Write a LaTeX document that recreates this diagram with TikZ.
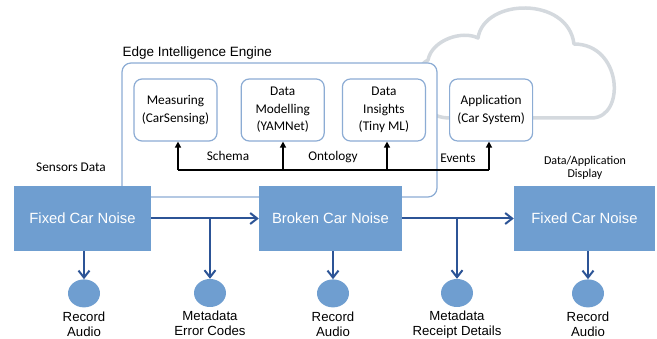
\documentclass[tikz,border=0pt]{standalone}
\usepackage{fontspec}
\setmainfont{Liberation Sans}
\newfontfamily\calfont{Carlito}
\usetikzlibrary{positioning, arrows.meta, shapes.geometric}

\definecolor{boxblue}{RGB}{111,158,208}
\definecolor{linkblue}{RGB}{44,84,150}
\definecolor{edgeblue}{RGB}{140,172,212}
\definecolor{cloudgray}{RGB}{212,217,222}

\tikzset{
  noise/.style={fill=boxblue, text=white, minimum height=65pt, inner sep=0pt,
    font=\fontsize{14.8}{17}\selectfont},
  engbox/.style={draw=edgeblue, line width=1.2pt, fill=white, rounded corners=8pt,
    minimum width=83pt, minimum height=62pt, align=center, inner sep=0pt,
    font=\calfont\fontsize{13.3}{17.5}\selectfont},
  store/.style={ellipse, fill=boxblue, minimum width=32pt, minimum height=28pt, inner sep=0pt},
  storetext/.style={align=center, inner sep=0pt, font=\fontsize{13.2}{15}\selectfont},
  tag/.style={inner sep=0pt, font=\calfont\fontsize{13.3}{15}\selectfont},
  flow/.style={draw=linkblue, line width=2pt, -{Straight Barb[length=7pt,width=11pt]}},
  bus/.style={line width=1.8pt, -{Triangle[length=6pt,width=6pt]}},
}

\begin{document}
\begin{tikzpicture}[x=1pt, y=-1pt]
  \useasboundingbox (0,0) rectangle (657,339);

  % cloud behind the engine
  \draw[cloudgray, line width=3.5pt, line join=round]
    (450,118) .. controls (412,118) and (408,70) .. (428,60)
    .. controls (432,40) and (462,30) .. (478,38)
    .. controls (484,-2) and (568,-4) .. (574,44)
    .. controls (622,44) and (626,117) .. (592,118) -- cycle;

  % engine frame
  \node[draw=edgeblue, line width=1.2pt, fill=white, rounded corners=9pt,
        minimum width=315pt, minimum height=134pt] (engine) at (279.5,130) {};
  \node[above right=3pt and 1pt of engine.north west, inner sep=0pt,
        font=\fontsize{13.5}{16}\selectfont] (title) {Edge Intelligence Engine};

  \node[engbox] (meas) at (175.5,110) {Measuring\\(CarSensing)};
  \node[engbox, right=23pt of meas] (model) {Data\\Modelling\\(YAMNet)};
  \node[engbox, right=17pt of model] (insight) {Data\\Insights\\(Tiny ML)};
  \node[engbox, right=23pt of insight] (app) {Application\\(Car System)};

  % bus
  \coordinate (b1) at (178,170);
  \coordinate (b2) at (283,170);
  \coordinate (b3) at (387,170);
  \coordinate (b4) at (489,170);
  \draw[line width=1.8pt] (b1) -- (b4);
  \draw[bus] (b1) -- (b1 |- meas.south);
  \draw[bus] (b2) -- (b2 |- model.south);
  \draw[bus] (b3) -- (b3 |- insight.south);
  \draw[bus] (b4) -- (b4 |- app.south);

  \node[tag] (schema) at (228,156) {Schema};
  \node[tag] (onto) at (333,157) {Ontology};
  \node[tag] (events) at (458,158) {Events};
  \node[tag] (sensors) at (71,167) {Sensors Data};
  \node[tag, align=center, font=\calfont\fontsize{12}{12.5}\selectfont] (display) at (585,168) {Data/Application\\Display};

  % main chain
  \node[noise, minimum width=137pt] (fix1) at (82.5,218.5) {Fixed Car Noise};
  \node[noise, minimum width=143pt] (brk) at (330.5,218.5) {Broken Car Noise};
  \node[noise, minimum width=141pt] (fix2) at (584.5,218.5) {Fixed Car Noise};

  \node[store, below=28pt of fix1, xshift=1.5pt] (rec1) {};
  \node[store, below=28pt of brk, xshift=2.5pt] (rec2) {};
  \node[store, below=28pt of fix2, xshift=3.5pt] (rec3) {};
  \node[store] (meta1) at (210,293) {};
  \node[store] (meta2) at (457,293) {};

  \node[storetext, below=4pt of rec1] (rec1l) {Record\\Audio};
  \node[storetext, below=4pt of rec2] (rec2l) {Record\\Audio};
  \node[storetext, below=4pt of rec3] (rec3l) {Record\\Audio};
  \node[storetext, below=4pt of meta1] (meta1l) {Metadata\\Error Codes};
  \node[storetext, below=4pt of meta2] (meta2l) {Metadata\\Receipt Details};

  \draw[flow] (fix1) -- (brk);
  \draw[flow] (brk) -- (fix2);
  \draw[flow] (meta1 |- fix1.east) -- (meta1);
  \draw[flow] (meta2 |- brk.east) -- (meta2);
  \draw[flow] (rec1 |- fix1.south) -- (rec1);
  \draw[flow] (rec2 |- brk.south) -- (rec2);
  \draw[flow] (rec3 |- fix2.south) -- (rec3);
\end{tikzpicture}
\end{document}
